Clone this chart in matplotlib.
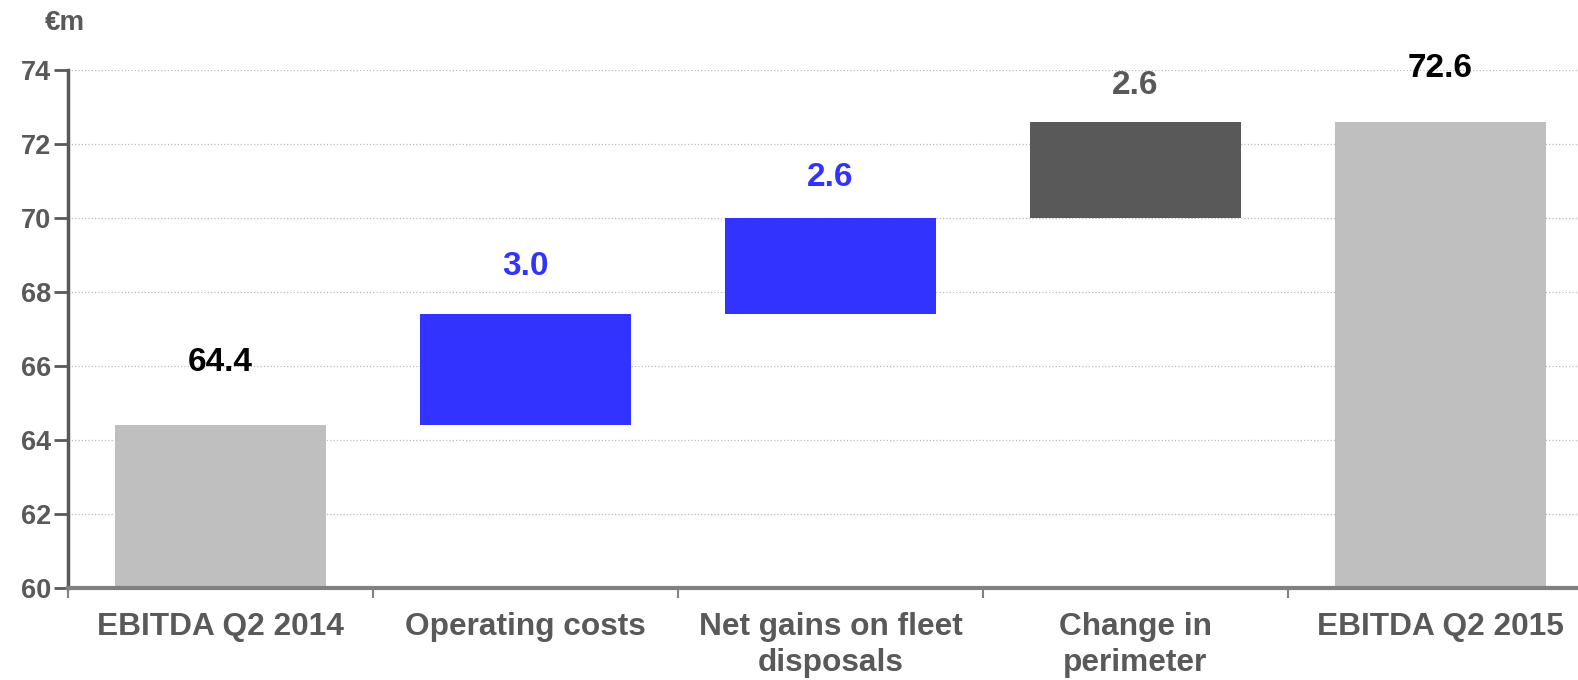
import matplotlib
matplotlib.use('Agg')
import matplotlib.pyplot as plt
import numpy as np

#---------------------------------------
# data

categories=['EBITDA Q2 2014','Operating costs','Net gains on fleet\ndisposals','Change in\nperimeter','EBITDA Q2 2015']
start_val=64.4
deltas=[3.0,2.6,2.6]
end_val=72.6
labels=['64.4','3.0','2.6','2.6','72.6']

bar_cols=['#BFBFBF','#3333FF','#3333FF','#595959','#BFBFBF']
lbl_cols=['#000000','#3333FF','#3333FF','#595959','#000000']
lbl_off=[1.7,1.3,1.1,1.0,1.45]
#---------------------------------------

plt.rcParams['font.family']=['Liberation Sans','DejaVu Sans']
ymin=60

bottoms=[ymin]
heights=[start_val-ymin]
run=start_val
for d in deltas:
    bottoms.append(run)
    heights.append(d)
    run=run+d
bottoms.append(ymin)
heights.append(end_val-ymin)
tops=np.array(bottoms)+np.array(heights)

fig=plt.figure(figsize=(15.78,6.8),dpi=100)
# plot area runs a bit past the right edge, as in the original slide
ax=fig.add_axes([68/1578,1-587.5/680,1525/1578,(587.5-70.4)/680])

x=np.arange(len(categories))
ax.bar(x,heights,bottom=bottoms,width=0.69,color=bar_cols,zorder=2)

for i in range(len(x)):
    ax.text(x[i],tops[i]+lbl_off[i],labels[i],ha='center',va='center',
            fontsize=24,fontweight='bold',color=lbl_cols[i])

ax.set_xlim(-0.5,len(categories)-0.5)
ax.set_ylim(60,74)
ax.set_yticks(np.arange(60,75,2))
ax.yaxis.grid(True,linestyle=':',color='#BBBBBB',linewidth=0.9,zorder=0)
ax.set_axisbelow(True)

# category labels on minor ticks, major ticks on boundaries
ax.set_xticks(np.arange(-0.5,len(categories),1.0))
ax.set_xticklabels([])
ax.set_xticks(x,minor=True)
ax.set_xticklabels(categories,minor=True)
ax.tick_params(axis='x',which='minor',length=0,pad=18,labelsize=22.8,labelcolor='#595959')
ax.tick_params(axis='x',which='major',length=7,width=1.5,color='#808080',direction='out')
for t in ax.xaxis.get_minorticklabels():
    t.set_fontweight('bold')
    t.set_linespacing(1.25)

ax.tick_params(axis='y',length=10,width=2,color='#595959',labelsize=19.5,labelcolor='#595959',pad=2)
for t in ax.get_yticklabels():
    t.set_fontweight('bold')

ax.spines['top'].set_visible(False)
ax.spines['right'].set_visible(False)
ax.spines['left'].set_color('#595959')
ax.spines['left'].set_linewidth(2.5)
ax.spines['bottom'].set_color('#808080')
ax.spines['bottom'].set_linewidth(3)

fig.text(45/1578,1-23/680,'€m',fontsize=20,fontweight='bold',color='#595959',va='center',ha='left')

plt.savefig('out.png',dpi=100)
plt.close()
